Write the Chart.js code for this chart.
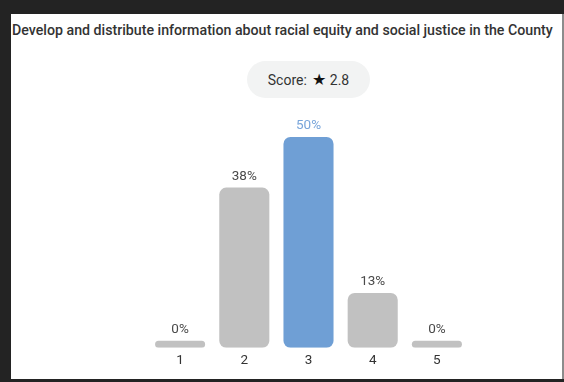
<!DOCTYPE html>
<html>
<head>
<meta charset="utf-8">
<title>Rating distribution</title>
<script src="https://cdn.jsdelivr.net/npm/chart.js@4.4.1/dist/chart.umd.min.js"></script>
<style>
  html, body { margin: 0; padding: 0; }
  body {
    width: 564px; height: 382px; position: relative; overflow: hidden;
    background: #232323; font-family: Roboto, "Noto Sans", sans-serif;
  }
  .panel {
    position: absolute; left: 11px; top: 14px; width: 551px; height: 365px;
    background: #fff; border-right: 2px solid #8c8c8c;
  }
  .question {
    position: absolute; left: 12px; top: 22px; width: 548px;
    font-size: 14.2px; line-height: 17px; font-weight: 500; color: #333;
    white-space: nowrap;
  }
  .score {
    position: absolute; left: 247px; top: 61px; width: 123px; height: 37px;
    border-radius: 19px; background: #f2f3f3; color: #333;
    font-size: 14px; display: flex; align-items: center; justify-content: center;
  }
  .score .star { color: #111; font-size: 16px; margin: 0 4px 0 5px; }
  .chart-box { position: absolute; left: 148px; top: 100px; width: 321px; height: 279px; }
</style>
</head>
<body>
<div class="panel"></div>
<div class="question" id="question"></div>
<div class="score">Score:<span class="star">&#9733;</span><span id="score"></span></div>
<div class="chart-box"><canvas id="myChart"></canvas></div>
<script>
var question = 'Develop and distribute information about racial equity and social justice in the County';
var score = 2.8;
var ratings = ['1', '2', '3', '4', '5'];
var percents = [0, 38, 50, 13, 0];

var grey = '#c1c1c1';
var blue = '#6f9fd5';
var blueText = '#78a5da';

document.getElementById('question').textContent = question;
document.getElementById('score').textContent = score.toFixed(1);

// the most chosen rating gets the accent colour
var best = percents.indexOf(Math.max.apply(null, percents));
var barColors = percents.map(function (v, i) { return i === best ? blue : grey; });

// percentage written above every bar
var valueLabels = {
    id: 'valueLabels',
    afterDatasetsDraw: function (chart) {
        var ctx = chart.ctx;
        var bars = chart.getDatasetMeta(0).data;
        ctx.save();
        ctx.font = '13.5px Roboto';
        ctx.textAlign = 'center';
        ctx.textBaseline = 'middle';
        bars.forEach(function (bar, i) {
            ctx.fillStyle = i === best ? blueText : '#4a4a4a';
            ctx.fillText(percents[i] + '%', bar.x, bar.y - 11);
        });
        ctx.restore();
    }
};

var ctx = document.getElementById('myChart').getContext('2d');
var myChart = new Chart(ctx, {
    type: 'bar',
    data: {
        labels: ratings,
        datasets: [{
            data: percents,
            backgroundColor: barColors,
            borderRadius: 7,
            borderSkipped: false,
            minBarLength: 7,
            categoryPercentage: 1,
            barPercentage: 0.78
        }]
    },
    options: {
        responsive: true,
        maintainAspectRatio: false,
        animation: false,
        devicePixelRatio: 1,
        layout: { padding: { top: 37, bottom: 5, left: 0, right: 0 } },
        plugins: {
            legend: { display: false },
            tooltip: { enabled: false }
        },
        scales: {
            x: {
                grid: { display: false, drawTicks: false },
                border: { display: false },
                ticks: { color: '#333', font: { family: 'Roboto', size: 13.5 }, padding: 5 }
            },
            y: {
                display: false,
                min: 0,
                max: 50
            }
        }
    },
    plugins: [valueLabels]
});
</script>
</body>
</html>
